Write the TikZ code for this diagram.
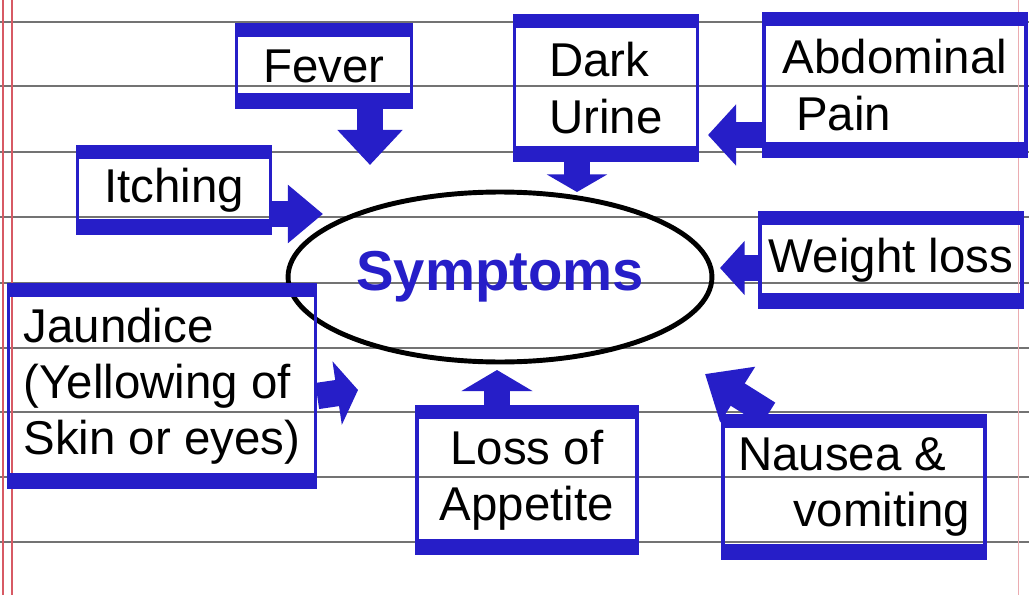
\documentclass[tikz,border=0pt]{standalone}
\usepackage{fontspec}
\setmainfont{Liberation Sans}
\usetikzlibrary{shapes.geometric,arrows.meta}
\definecolor{ink}{RGB}{38,30,200}
\definecolor{margin}{RGB}{215,90,100}

\begin{document}
\begin{tikzpicture}[
    x=0.02cm, y=-0.02cm,
    font=\fontsize{27}{32}\selectfont,
    box/.style={draw=ink, line width=2pt, inner sep=0pt, align=left,
        path picture={
            \fill[ink] (path picture bounding box.north west) rectangle ([yshift=-7pt]path picture bounding box.north east);
            \fill[ink] ([yshift=8pt]path picture bounding box.south west) rectangle (path picture bounding box.south east);
        }},
    hub/.style={draw, ellipse, line width=2.8pt, minimum width=8.48cm, minimum height=3.4cm,
        text=ink, font=\fontsize{32}{36}\selectfont\bfseries},
    fatarrow/.style={draw=ink, line width=15pt, -{Triangle[length=16pt,width=34pt]}},
    paperline/.style={draw=black!55, line width=0.7pt}]

    % paper
    \fill[white] (0,0) rectangle (1029,595);
    \useasboundingbox (0,0) rectangle (1029,595);
    \foreach \py in {22,86,152,217,283,348,412,477,542}
        \draw[paperline] (0,\py) -- (1029,\py);
    \draw[margin, line width=0.6pt] (3,0) -- (3,595);
    \draw[margin, line width=0.6pt] (12,0) -- (12,595);
    \draw[margin!50, line width=0.5pt] (1018,0) -- (1018,595);

    % centre
    \node[hub] (sym) at (500,277) {Symptoms};

    % symptom boxes
    \node[box, minimum width=3.5cm, minimum height=1.64cm] (fever) at (324,66) {Fever};
    \node[box, minimum width=3.66cm, minimum height=2.9cm] (urine) at (606,88) {Dark\\Urine};
    \node[box, minimum width=5.24cm, minimum height=2.86cm] (abdomen) at (895,85) {Abdominal\\\ Pain};
    \node[box, minimum width=3.86cm, minimum height=1.72cm] (itching) at (174,190) {Itching};
    \node[box, minimum width=5.24cm, minimum height=1.88cm] (weight) at (891,260) {Weight loss};
    \node[box, minimum width=6.14cm, minimum height=4.04cm] (jaundice) at (162,386) {Jaundice\\(Yellowing of\\Skin or eyes)};
    \node[box, minimum width=4.4cm, minimum height=2.92cm, align=center] (appetite) at (527,480) {Loss of\\Appetite};
    \node[box, minimum width=5.24cm, minimum height=2.86cm] (nausea) at (854,487) {Nausea \&\\\hspace*{1.1cm}vomiting};

    % arrow tips
    \coordinate (feverTip) at (370,165);
    \coordinate (urineTip) at (577,192);
    \coordinate (abdomenTip) at (708,135);
    \coordinate (itchingTip) at (323,214);
    \coordinate (weightTip) at (720,268);
    \coordinate (jaundiceTip) at (358,390);
    \coordinate (appetiteTip) at (497,370);
    \coordinate (nauseaTip) at (705,374);

    \draw[fatarrow, -{Triangle[length=20pt,width=36pt]}] (fever.south -| feverTip) -- (feverTip);
    \draw[fatarrow, -{Triangle[length=10pt,width=34pt]}] (urine.south -| urineTip) -- (urineTip);
    \draw[fatarrow] (abdomen.west |- abdomenTip) -- (abdomenTip);
    \draw[fatarrow, -{Triangle[length=20pt,width=32pt]}] (itching.east |- itchingTip) -- (itchingTip);
    \draw[fatarrow, -{Triangle[length=14pt,width=30pt]}] (weight.west |- weightTip) -- (weightTip);
    \draw[fatarrow, -{Triangle[length=12pt,width=36pt]}] ([yshift=-0.2cm]jaundice.east) -- (jaundiceTip);
    \draw[fatarrow, -{Triangle[length=12pt,width=40pt]}] (appetite.north -| appetiteTip) -- (appetiteTip);
    \draw[fatarrow, -{Triangle[length=22pt,width=36pt]}] ([xshift=0.94cm]nausea.north west) -- (nauseaTip);
\end{tikzpicture}
\end{document}
